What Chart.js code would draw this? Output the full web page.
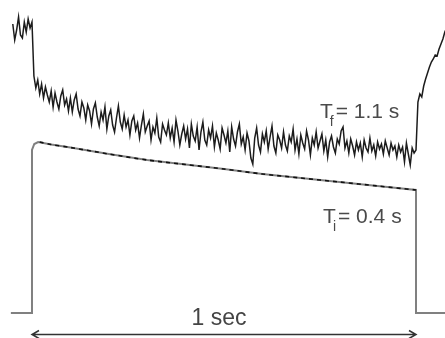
<!DOCTYPE html>
<html>
<head>
<meta charset="utf-8">
<script src="https://cdn.jsdelivr.net/npm/chart.js@4.4.1/dist/chart.umd.min.js"></script>
<style>
  html, body { margin: 0; padding: 0; background: #ffffff; }
  #wrap { width: 445px; height: 338px; position: relative; }
</style>
</head>
<body>
<div id="wrap"><canvas id="traceChart"></canvas></div>
<script>
// time in seconds (stimulus on at 0, off at 1), signal in arbitrary units

// stimulus / current trace (gray)
const stepTimes = [-0.055, 0, 0, 0.006, 0.016, 0.05, 0.1, 0.2, 0.3, 0.4, 0.5, 0.6, 0.7, 0.8, 0.9, 1.0, 1.0, 1.1];
const stepValues = [25, 25, 188, 194, 196, 193.5, 190.5, 184, 178, 173.5, 169, 164, 160, 156, 152, 148, 25, 25];

// exponential fit drawn over the stimulus trace (dashed)
const fitTimes = [0.02, 0.05, 0.1, 0.2, 0.3, 0.4, 0.5, 0.6, 0.7, 0.8, 0.9, 1.0];
const fitValues = [196, 193.5, 190.5, 184, 178, 173.5, 169, 164, 160, 156, 152, 148];

// noisy fluorescence trace, sampled every 5 ms from -50 ms
const traceStart = -0.05;
const traceStep = 0.005;
const traceValues = [
    314, 298, 308, 321, 303, 300, 316, 306, 319, 310, 316,
    262, 250, 258, 244, 254, 240, 251, 243, 236, 247,
    231, 245, 236, 229, 242, 248, 233, 239, 227, 240,
    226, 238, 244, 229, 222, 236, 230, 218, 233, 227,
    214, 229, 235, 221, 212, 226, 218, 231, 209, 222,
    228, 213, 206, 220, 232, 216, 209, 223, 211, 218,
    203, 217, 222, 208, 215, 200, 213, 224, 206, 212,
    217, 198, 211, 205, 220, 201, 196, 214, 208, 203,
    215, 200, 210, 196, 218, 207, 193, 204, 212, 199,
    209, 190, 214, 202, 197, 211, 188, 206, 216, 198,
    193, 208, 200, 212, 191, 205, 198, 189, 210, 203,
    195, 207, 186, 211, 199, 192, 206, 214, 194, 201,
    188, 205, 197, 180, 174, 200, 210, 193, 186, 204,
    196, 207, 189, 201, 212, 192, 185, 203, 198, 190,
    206, 193, 187, 202, 196, 209, 188, 199, 184, 203,
    195, 189, 207, 198, 183, 200, 193, 206, 190, 197,
    204, 187, 198, 181, 196, 202, 191, 185, 199, 194,
    207, 211, 190, 197, 185, 199, 192, 183, 196, 188,
    195, 181, 198, 190, 186, 200, 187, 193, 182, 196,
    189, 194, 184, 197, 190, 183, 195, 188, 192, 181,
    193, 186, 191, 176, 195, 184, 173, 190, 185, 188,
    236, 244, 241, 252, 259, 265, 271, 276, 279, 283, 282, 289, 294, 299, 306, 310
];

// annotations
const tauFluor = { t: 0.75, v: 220, main: "T", sub: "f", rest: "= 1.1 s" };
const tauCurrent = { t: 0.758, v: 115, main: "T", sub: "i", rest: "= 0.4 s" };
const spanLabel = { from: 0, to: 1.0, v: 3.5, text: "1 sec", textV: 13 };

const xMin = -0.0833;
const xMax = 1.0755;

function pairs(xs, ys) {
    return ys.map((y, i) => ({ x: xs[i], y }));
}

const traceData = traceValues.map((v, i) => ({ x: traceStart + i * traceStep, y: v }));

const annotationPlugin = {
    id: "annotations",
    afterDatasetsDraw(chart) {
        const ctx = chart.ctx;
        const xs = chart.scales.x;
        const ys = chart.scales.y;
        ctx.save();

        // tau labels
        [tauFluor, tauCurrent].forEach((lab) => {
            const x = xs.getPixelForValue(lab.t);
            const y = ys.getPixelForValue(lab.v);
            ctx.fillStyle = "#4a4a4a";
            ctx.textBaseline = "alphabetic";
            ctx.textAlign = "left";
            ctx.font = "21px 'Liberation Sans', Arial, sans-serif";
            ctx.fillText(lab.main, x, y);
            const tw = ctx.measureText(lab.main).width;
            ctx.font = "14px 'Liberation Sans', Arial, sans-serif";
            ctx.fillText(lab.sub, x + tw - 3, y + 8);
            const sw = ctx.measureText(lab.sub).width;
            ctx.font = "21px 'Liberation Sans', Arial, sans-serif";
            ctx.fillText(lab.rest, x + tw + sw - 1, y);
        });

        // span arrow
        const x0 = xs.getPixelForValue(spanLabel.from);
        const x1 = xs.getPixelForValue(spanLabel.to);
        const ya = ys.getPixelForValue(spanLabel.v);
        ctx.strokeStyle = "#333333";
        ctx.lineWidth = 1.5;
        ctx.beginPath();
        ctx.moveTo(x0, ya);
        ctx.lineTo(x1, ya);
        ctx.moveTo(x0 + 7, ya - 4);
        ctx.lineTo(x0, ya);
        ctx.lineTo(x0 + 7, ya + 4);
        ctx.moveTo(x1 - 7, ya - 4);
        ctx.lineTo(x1, ya);
        ctx.lineTo(x1 - 7, ya + 4);
        ctx.stroke();

        ctx.fillStyle = "#444444";
        ctx.textAlign = "center";
        ctx.font = "23px 'Liberation Sans', Arial, sans-serif";
        ctx.fillText(spanLabel.text, (x0 + x1) / 2 - 5, ys.getPixelForValue(spanLabel.textV));

        ctx.restore();
    },
};

new Chart(document.getElementById("traceChart"), {
    type: "line",
    data: {
        datasets: [
            {
                label: "Fluorescence",
                data: traceData,
                borderColor: "#1c1c1c",
                borderWidth: 1.5,
                pointRadius: 0,
                tension: 0,
                order: 1,
            },
            {
                label: "Current",
                data: pairs(stepTimes, stepValues),
                borderColor: "#808080",
                borderWidth: 2,
                pointRadius: 0,
                tension: 0,
                order: 2,
            },
            {
                label: "Fit",
                data: pairs(fitTimes, fitValues),
                borderColor: "#111111",
                borderWidth: 1.6,
                borderDash: [4, 4],
                pointRadius: 0,
                tension: 0.3,
                order: 0,
            },
        ],
    },
    options: {
        responsive: true,
        maintainAspectRatio: false,
        animation: false,
        layout: { padding: 0 },
        plugins: {
            legend: { display: false },
            tooltip: { enabled: false },
        },
        scales: {
            x: { type: "linear", min: xMin, max: xMax, display: false },
            y: { type: "linear", min: 0, max: 338, display: false },
        },
    },
    plugins: [annotationPlugin],
});
</script>
</body>
</html>
